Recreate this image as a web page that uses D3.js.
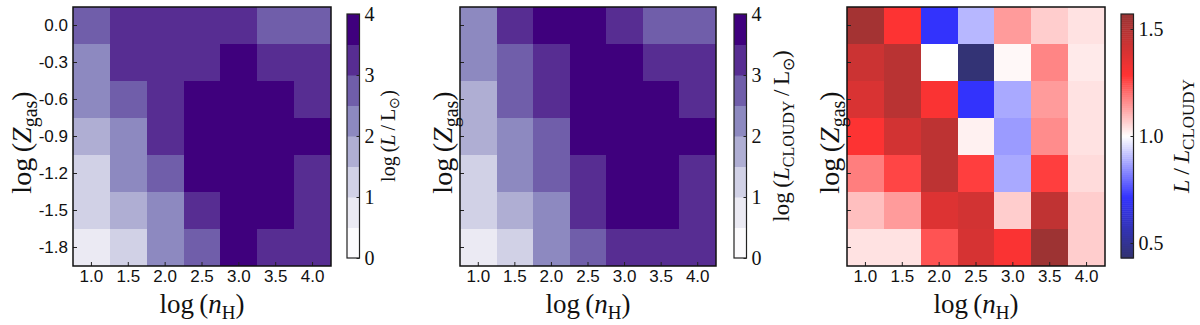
<!doctype html>
<html lang="en">
  <head>
    <meta charset="UTF-8" />
    <title>Line luminosity grids</title>
    <script src="https://d3js.org/d3.v7.min.js"></script>
    <style>
      body {
        margin: 0;
        padding: 0;
        background: white;
      }
      .tick-label {
        font-family: 'Liberation Sans', sans-serif;
        font-size: 17px;
        fill: #111;
      }
      .math {
        font-family: 'Liberation Serif', serif;
        fill: #111;
      }
      .cb-label {
        font-family: 'Liberation Serif', serif;
        font-size: 20px;
        fill: #111;
      }
    </style>
  </head>
  <body>
    <div id="chart"></div>
    <script>
      // grid axes
      const nH = ['1.0', '1.5', '2.0', '2.5', '3.0', '3.5', '4.0']
      const Zgas = ['0.0', '-0.3', '-0.6', '-0.9', '-1.2', '-1.5', '-1.8']

      // log(L / Lsun), rows top (Z = 0.0) to bottom (Z = -1.8)
      const logL = [
        [2.75, 3.25, 3.25, 3.25, 3.25, 2.75, 2.75],
        [2.25, 3.25, 3.25, 3.25, 3.75, 3.25, 3.25],
        [2.25, 2.75, 3.25, 3.75, 3.75, 3.75, 3.25],
        [1.75, 2.25, 3.25, 3.75, 3.75, 3.75, 3.75],
        [1.25, 2.25, 2.75, 3.75, 3.75, 3.75, 3.25],
        [1.25, 1.75, 2.25, 3.25, 3.75, 3.75, 3.25],
        [0.75, 1.25, 2.25, 2.75, 3.75, 3.25, 3.25],
      ]

      // log(L_CLOUDY / Lsun)
      const logLCloudy = [
        [2.25, 3.25, 3.75, 3.75, 3.25, 2.75, 2.75],
        [2.25, 2.75, 3.25, 3.75, 3.75, 3.25, 3.25],
        [1.75, 2.75, 3.25, 3.75, 3.75, 3.75, 3.25],
        [1.75, 2.25, 2.75, 3.75, 3.75, 3.75, 3.75],
        [1.25, 2.25, 2.75, 3.25, 3.75, 3.75, 3.25],
        [1.25, 1.75, 2.25, 3.25, 3.75, 3.75, 3.25],
        [0.75, 1.25, 2.25, 2.75, 3.25, 3.25, 3.25],
      ]

      // L / L_CLOUDY
      const ratio = [
        [1.54, 1.29, 0.71, 0.9, 1.14, 1.07, 1.04],
        [1.43, 1.48, 1.0, 0.44, 1.01, 1.17, 1.03],
        [1.39, 1.48, 1.3, 0.71, 0.88, 1.14, 1.04],
        [1.29, 1.41, 1.47, 1.02, 0.86, 1.16, 1.04],
        [1.18, 1.26, 1.47, 1.27, 0.88, 1.27, 1.05],
        [1.09, 1.14, 1.38, 1.41, 1.07, 1.46, 1.07],
        [1.04, 1.04, 1.24, 1.4, 1.3, 1.56, 1.07],
      ]

      const lumTicks = [0, 1, 2, 3, 4]
      const ratioTicks = [0.5, 1.0, 1.5]

      const W = 1200
      const H = 325

      const svg = d3.select('#chart').append('svg').attr('width', W).attr('height', H)

      // colour scales
      const purples = d3
        .scaleQuantize()
        .domain([0, 4])
        .range(d3.range(8).map((i) => d3.interpolatePurples(i / 7)))

      // matplotlib "seismic" seen through alpha 0.8 on white
      const rMin = 0.43
      const rMax = 1.57
      const seismic = d3
        .scaleLinear()
        .domain([0, 0.25, 0.5, 0.75, 1].map((t) => rMin + t * (rMax - rMin)))
        .range(['#333370', '#3333ff', '#ffffff', '#ff3333', '#993333'])
        .clamp(true)

      // write a mathtext-like label: parts = [text, style] with style it/rm/sub/subend
      function mathText(sel, parts, size) {
        const subSize = Math.round(size * 0.7)
        parts.forEach(([t, s]) => {
          const ts = sel.append('tspan').text(t)
          if (s === 'it') ts.attr('font-style', 'italic').attr('font-size', size)
          else if (s === 'sub') ts.attr('font-size', subSize).attr('dy', size * 0.22)
          else ts.attr('font-size', size)
          if (s === 'subend') ts.attr('dy', -size * 0.22)
        })
      }

      const panels = [
        {
          data: logL,
          color: purples,
          x0: 73,
          x1: 331,
          cbx: 347,
          yTicks: true,
          ylabelX: 31,
          cb: { domain: [0, 4], ticks: lumTicks, fmt: d3.format('d'), steps: 8 },
          cbLabelX: 395,
          cbSize: 20,
          cbLabel: [
            ['log\u2009(', 'rm'],
            ['L', 'it'],
            ['\u2009/\u2009L', 'rm'],
            ['\u2299', 'sub'],
            [')', 'subend'],
          ],
        },
        {
          data: logLCloudy,
          color: purples,
          x0: 460,
          x1: 716,
          cbx: 734,
          yTicks: false,
          ylabelX: 452,
          cb: { domain: [0, 4], ticks: lumTicks, fmt: d3.format('d'), steps: 8 },
          cbLabelX: 789,
          cbSize: 23,
          cbLabel: [
            ['log\u2009(', 'rm'],
            ['L', 'it'],
            ['CLOUDY', 'sub'],
            ['\u2009/\u2009L', 'subend'],
            ['\u2299', 'sub'],
            [')', 'subend'],
          ],
        },
        {
          data: ratio,
          color: seismic,
          x0: 847,
          x1: 1105,
          cbx: 1121,
          yTicks: false,
          ylabelX: 839,
          cb: { domain: [rMin, rMax], ticks: ratioTicks, fmt: d3.format('.1f'), steps: 0 },
          cbLabelX: 1189,
          cbSize: 24,
          cbLabel: [
            ['L', 'it'],
            ['\u2009/\u2009', 'rm'],
            ['L', 'it'],
            ['CLOUDY', 'sub'],
          ],
        },
      ]

      const plotTop = 7
      const plotBottom = 266
      const cbTop = 14
      const cbBottom = 258
      const cbW = 12.5

      panels.forEach((p) => {
        const x = d3.scaleBand().domain(nH).range([p.x0, p.x1])
        const y = d3.scaleBand().domain(Zgas).range([plotTop, plotBottom])
        const g = svg.append('g')

        const cells = []
        p.data.forEach((row, i) => row.forEach((v, j) => cells.push({ z: Zgas[i], n: nH[j], v })))

        // snap cell edges to whole pixels so neighbours touch without seams
        const left = (d) => Math.round(x(d.n))
        const right = (d) => Math.round(x(d.n) + x.bandwidth())
        const top = (d) => Math.round(y(d.z))
        const bottom = (d) => Math.round(y(d.z) + y.bandwidth())

        g.selectAll('rect.cell')
          .data(cells)
          .join('rect')
          .attr('class', 'cell')
          .attr('shape-rendering', 'crispEdges')
          .attr('x', left)
          .attr('y', top)
          .attr('width', (d) => right(d) - left(d))
          .attr('height', (d) => bottom(d) - top(d))
          .attr('fill', (d) => p.color(d.v))

        // axes with inward ticks
        const xAxis = g
          .append('g')
          .attr('transform', `translate(0,${plotBottom})`)
          .call(d3.axisBottom(x).tickSize(-4).tickPadding(4))
        xAxis.select('.domain').remove()
        xAxis.selectAll('line').attr('stroke', '#222')
        xAxis.selectAll('text').attr('class', 'tick-label').attr('font-size', null).attr('font-family', null)

        const yAxis = g
          .append('g')
          .attr('transform', `translate(${p.x0},0)`)
          .call(d3.axisLeft(y).tickSize(-4).tickPadding(5))
        yAxis.select('.domain').remove()
        yAxis.selectAll('line').attr('stroke', '#222')
        if (p.yTicks) {
          yAxis.selectAll('text').attr('class', 'tick-label').attr('font-size', null).attr('font-family', null)
        } else {
          yAxis.selectAll('text').remove()
        }

        // frame
        g.append('rect')
          .attr('x', p.x0)
          .attr('y', plotTop)
          .attr('width', p.x1 - p.x0)
          .attr('height', plotBottom - plotTop)
          .attr('fill', 'none')
          .attr('stroke', '#111')
          .attr('stroke-width', 1.5)

        // axis titles
        const xl = g
          .append('text')
          .attr('class', 'math')
          .attr('text-anchor', 'middle')
          .attr('x', (p.x0 + p.x1) / 2)
          .attr('y', 313)
        mathText(
          xl,
          [
            ['log\u2009(', 'rm'],
            ['n', 'it'],
            ['H', 'sub'],
            [')', 'subend'],
          ],
          27
        )

        const yl = g
          .append('text')
          .attr('class', 'math')
          .attr('text-anchor', 'middle')
          .attr('transform', `translate(${p.ylabelX},${(plotTop + plotBottom) / 2 + 6}) rotate(-90)`)
        mathText(
          yl,
          [
            ['log\u2009(', 'rm'],
            ['Z', 'it'],
            ['gas', 'sub'],
            [')', 'subend'],
          ],
          28
        )

        // colour bar
        const cy = d3.scaleLinear().domain(p.cb.domain).range([cbBottom, cbTop])
        const cbg = g.append('g')
        const n = p.cb.steps > 0 ? p.cb.steps : 120
        const step = (p.cb.domain[1] - p.cb.domain[0]) / n
        const edges = d3.range(n).map((i) => p.cb.domain[0] + i * step)
        cbg.selectAll('rect')
          .data(edges)
          .join('rect')
          .attr('x', p.cbx)
          .attr('y', (d) => cy(d + step))
          .attr('width', cbW)
          .attr('height', (d) => cy(d) - cy(d + step) + 0.5)
          .attr('fill', (d) => p.color(d + step / 2))

        cbg.append('rect')
          .attr('x', p.cbx)
          .attr('y', cbTop)
          .attr('width', cbW)
          .attr('height', cbBottom - cbTop)
          .attr('fill', 'none')
          .attr('stroke', '#222')
          .attr('stroke-width', 1.2)

        const cbAxis = cbg
          .append('g')
          .attr('transform', `translate(${p.cbx + cbW},0)`)
          .call(d3.axisRight(cy).tickValues(p.cb.ticks).tickFormat(p.cb.fmt).tickSize(-3).tickPadding(5))
        cbAxis.select('.domain').remove()
        cbAxis.selectAll('line').attr('stroke', '#222')
        cbAxis.selectAll('text').attr('class', 'cb-label').attr('font-size', null).attr('font-family', null)

        const cl = g
          .append('text')
          .attr('class', 'math')
          .attr('text-anchor', 'middle')
          .attr('transform', `translate(${p.cbLabelX},${(cbTop + cbBottom) / 2}) rotate(-90)`)
        mathText(cl, p.cbLabel, p.cbSize)
      })
    </script>
  </body>
</html>
